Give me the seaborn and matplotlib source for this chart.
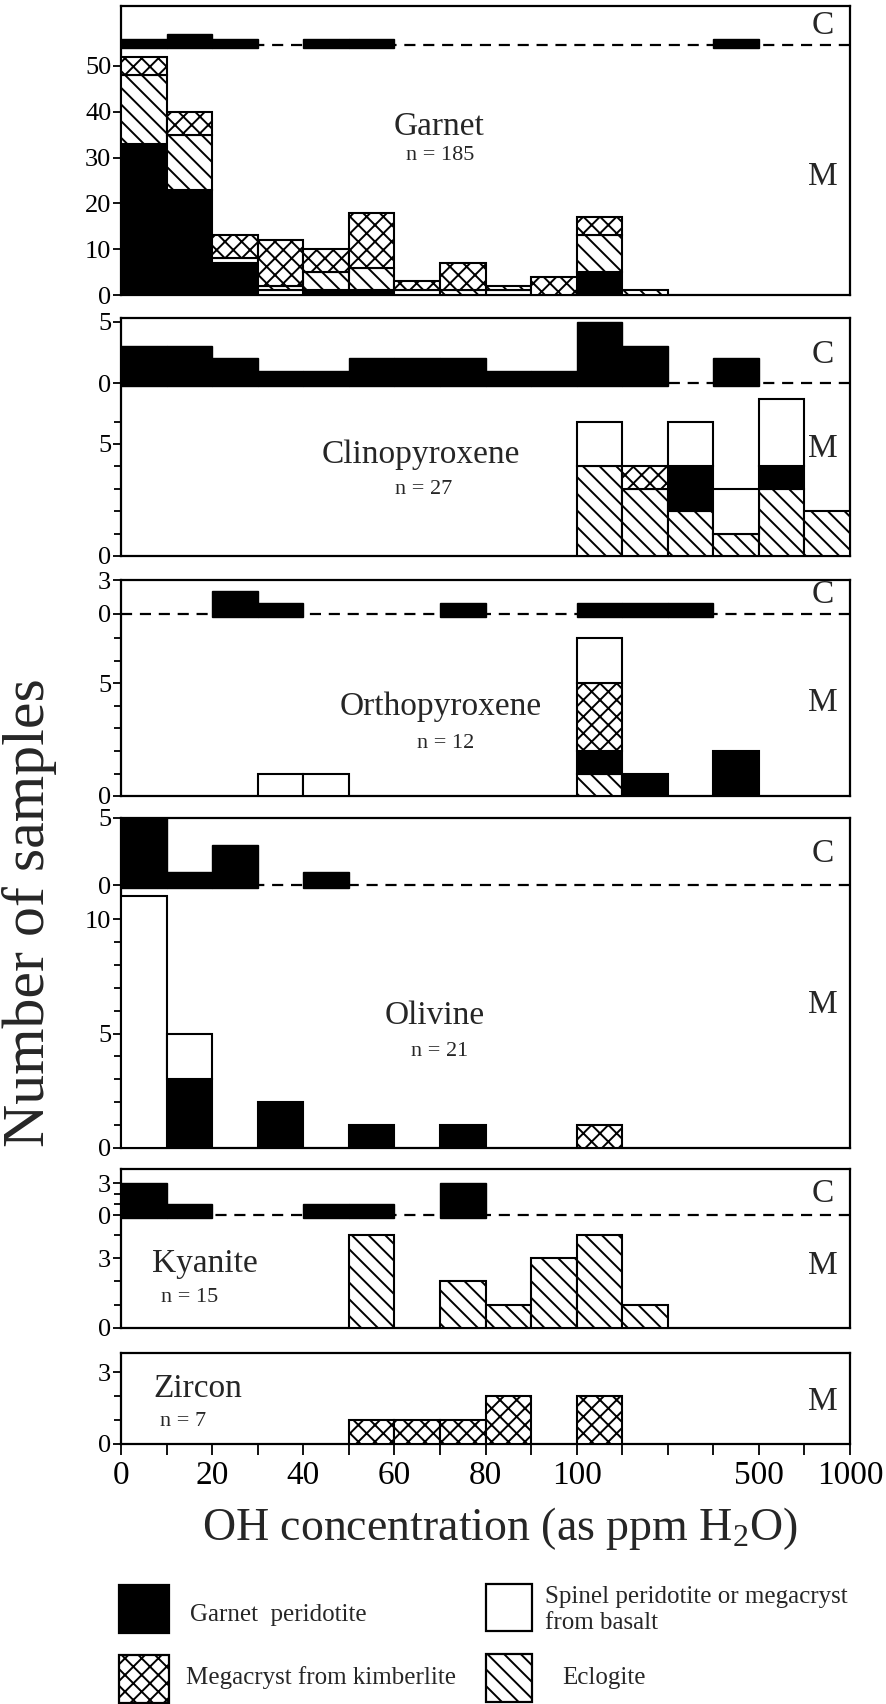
import numpy as np
import matplotlib
matplotlib.use("Agg")
import matplotlib.pyplot as plt
from matplotlib.patches import Rectangle
import seaborn as sns

# ---------------- data ----------------
bins = list(range(16))                      # bin index along the OH axis
x_tick_pos = [0, 2, 4, 6, 8, 10, 14, 16]
x_tick_labels = ["0", "20", "40", "60", "80", "100", "500", "1000"]

garnet_black    = [33, 23, 7, 0, 1, 1, 0, 0, 0, 0, 5, 0, 0, 0, 0, 0]
garnet_spinel   = [0, 0, 1, 1, 0, 0, 1, 0, 1, 0, 0, 0, 0, 0, 0, 0]
garnet_eclogite = [15, 12, 0, 1, 4, 5, 0, 1, 1, 0, 8, 1, 0, 0, 0, 0]
garnet_mega     = [4, 5, 5, 10, 5, 12, 2, 6, 0, 4, 4, 0, 0, 0, 0, 0]
garnet_c        = [1, 2, 1, 0, 1, 1, 0, 0, 0, 0, 0, 0, 0, 1, 0, 0]

cpx_black    = [0, 0, 0, 0, 0, 0, 0, 0, 0, 0, 0, 0, 2, 0, 1, 0]
cpx_spinel   = [0, 0, 0, 0, 0, 0, 0, 0, 0, 0, 2, 0, 2, 2, 3, 0]
cpx_eclogite = [0, 0, 0, 0, 0, 0, 0, 0, 0, 0, 4, 3, 2, 1, 3, 2]
cpx_mega     = [0, 0, 0, 0, 0, 0, 0, 0, 0, 0, 0, 1, 0, 0, 0, 0]
cpx_c        = [3, 3, 2, 1, 1, 2, 2, 2, 1, 1, 5, 3, 0, 2, 0, 0]

opx_black    = [0, 0, 0, 0, 0, 0, 0, 0, 0, 0, 1, 1, 0, 2, 0, 0]
opx_spinel   = [0, 0, 0, 1, 1, 0, 0, 0, 0, 0, 2, 0, 0, 0, 0, 0]
opx_eclogite = [0, 0, 0, 0, 0, 0, 0, 0, 0, 0, 1, 0, 0, 0, 0, 0]
opx_mega     = [0, 0, 0, 0, 0, 0, 0, 0, 0, 0, 3, 0, 0, 0, 0, 0]
opx_c        = [0, 0, 2, 1, 0, 0, 0, 1, 0, 0, 1, 1, 1, 0, 0, 0]

ol_black    = [0, 3, 0, 2, 0, 1, 0, 1, 0, 0, 0, 0, 0, 0, 0, 0]
ol_spinel   = [11, 2, 0, 0, 0, 0, 0, 0, 0, 0, 0, 0, 0, 0, 0, 0]
ol_eclogite = [0] * 16
ol_mega     = [0, 0, 0, 0, 0, 0, 0, 0, 0, 0, 1, 0, 0, 0, 0, 0]
ol_c        = [5, 1, 3, 0, 1, 0, 0, 0, 0, 0, 0, 0, 0, 0, 0, 0]

ky_black    = [0] * 16
ky_spinel   = [0] * 16
ky_eclogite = [0, 0, 0, 0, 0, 4, 0, 2, 1, 3, 4, 1, 0, 0, 0, 0]
ky_mega     = [0] * 16
ky_c        = [3, 1, 0, 0, 1, 1, 0, 3, 0, 0, 0, 0, 0, 0, 0, 0]

zr_black    = [0] * 16
zr_spinel   = [0] * 16
zr_eclogite = [0] * 16
zr_mega     = [0, 0, 0, 0, 0, 1, 1, 1, 2, 0, 2, 0, 0, 0, 0, 0]

legend_labels = {
    "black": "Garnet  peridotite",
    "spinel": "Spinel peridotite or megacryst\nfrom basalt",
    "mega": "Megacryst from kimberlite",
    "eclogite": "Eclogite",
}

# ---------------- style ----------------
sns.set_theme(style="ticks")
SERIF = ["Liberation Serif", "DejaVu Serif"]
plt.rcParams["font.family"] = SERIF
plt.rcParams["mathtext.fontset"] = "custom"
plt.rcParams["mathtext.rm"] = "Liberation Serif"
plt.rcParams["mathtext.it"] = "Liberation Serif:italic"
plt.rcParams["hatch.linewidth"] = 1.4
plt.rcParams["hatch.color"] = "black"

STYLE = {
    "black":    dict(facecolor="black", hatch=None),
    "spinel":   dict(facecolor="white", hatch=None),
    "mega":     dict(facecolor="white", hatch="xx"),
    "eclogite": dict(facecolor="white", hatch="\\\\"),
}

W, H = 886, 1704
fig = plt.figure(figsize=(W / 100, H / 100), dpi=100)
fig.patch.set_facecolor("white")

LEFT, RIGHT = 121, 850
C_OFF = 3.0  # px the C bars dip below the dashed line

panels = [
    dict(name="Garnet", n="n = 185", top=6, bottom=295, munit=4.58,
         cbase=44.6, cunit=5.5,
         series=dict(black=garnet_black, spinel=garnet_spinel,
                     eclogite=garnet_eclogite, mega=garnet_mega),
         order=["black", "spinel", "eclogite", "mega"], c=garnet_c,
         mmaj=[0, 10, 20, 30, 40, 50], mmin=[], cmaj=[], cmin=[],
         name_xy=(439, 127), n_xy=(440, 156), cy=26, my=177, ha="center"),
    dict(name="Clinopyroxene", n="n = 27", top=318, bottom=556, munit=22.4,
         cbase=383, cunit=12.3,
         series=dict(black=cpx_black, spinel=cpx_spinel,
                     eclogite=cpx_eclogite, mega=cpx_mega),
         order=["eclogite", "black", "mega", "spinel"], c=cpx_c,
         mmaj=[0, 5], mmin=[1, 2, 3, 4, 6], cmaj=[0, 5], cmin=[],
         name_xy=(421, 455), n_xy=(424, 490), cy=355, my=449, ha="center"),
    dict(name="Orthopyroxene", n="n = 12", top=580, bottom=796, munit=22.5,
         cbase=614, cunit=11.3,
         series=dict(black=opx_black, spinel=opx_spinel,
                     eclogite=opx_eclogite, mega=opx_mega),
         order=["eclogite", "black", "mega", "spinel"], c=opx_c,
         mmaj=[0, 5], mmin=[1, 2, 3, 4, 6, 7], cmaj=[0, 3], cmin=[],
         name_xy=(441, 707), n_xy=(446, 743), cy=595, my=703, ha="center"),
    dict(name="Olivine", n="n = 21", top=818, bottom=1148, munit=22.9,
         cbase=885, cunit=13.4,
         series=dict(black=ol_black, spinel=ol_spinel,
                     eclogite=ol_eclogite, mega=ol_mega),
         order=["black", "spinel", "eclogite", "mega"], c=ol_c,
         mmaj=[0, 5, 10], mmin=[1, 2, 3, 4, 6, 7, 8, 9], cmaj=[0, 5], cmin=[],
         name_xy=(435, 1016), n_xy=(440, 1052), cy=854, my=1005, ha="center"),
    dict(name="Kyanite", n="n = 15", top=1169, bottom=1328, munit=23.3,
         cbase=1215, cunit=10.6,
         series=dict(black=ky_black, spinel=ky_spinel,
                     eclogite=ky_eclogite, mega=ky_mega),
         order=["black", "spinel", "eclogite", "mega"], c=ky_c,
         mmaj=[0, 3], mmin=[1, 2, 4], cmaj=[0, 3], cmin=[1, 2],
         name_xy=(205, 1264), n_xy=(190, 1298), cy=1194, my=1266, ha="center"),
    dict(name="Zircon", n="n = 7", top=1353, bottom=1444, munit=23.9,
         cbase=None, cunit=None,
         series=dict(black=zr_black, spinel=zr_spinel,
                     eclogite=zr_eclogite, mega=zr_mega),
         order=["black", "spinel", "eclogite", "mega"], c=None,
         mmaj=[0, 3], mmin=[1, 2], cmaj=[], cmin=[],
         name_xy=(198, 1389), n_xy=(183, 1421), cy=None, my=1402, ha="center"),
]

x = np.array(bins, dtype=float)

for i, p in enumerate(panels):
    ax = fig.add_axes([LEFT / W, 1 - p["bottom"] / H,
                       (RIGHT - LEFT) / W, (p["bottom"] - p["top"]) / H])
    ymax = (p["bottom"] - p["top"]) / p["munit"]
    ax.set_xlim(0, 16)
    ax.set_ylim(0, ymax)
    ax.set_facecolor("white")

    # stacked M bars
    base = np.zeros(16)
    for cat in p["order"]:
        vals = np.array(p["series"][cat], dtype=float)
        m = vals > 0
        if m.any():
            ax.bar(x[m], vals[m], width=1.0, bottom=base[m], align="edge",
                   edgecolor="black", linewidth=1.5, zorder=3,
                   **STYLE[cat])
        base += vals

    yt, ytl = [], []
    for v in p["mmaj"]:
        yt.append(v); ytl.append(str(v))
    ymin_ticks = list(p["mmin"])

    # C section
    if p["c"] is not None:
        cb = (p["bottom"] - p["cbase"]) / p["munit"]
        cs = p["cunit"] / p["munit"]
        off = C_OFF / p["munit"]
        ax.axhline(cb, color="black", lw=1.6, ls=(0, (5, 3.5)), zorder=2)
        cv = np.array(p["c"], dtype=float)
        m = cv > 0
        ax.bar(x[m], cv[m] * cs + off, width=1.0, bottom=cb - off, align="edge",
               facecolor="black", edgecolor="black", linewidth=1.0, zorder=4)
        for v in p["cmaj"]:
            yt.append(cb + v * cs); ytl.append(str(v))
        for v in p["cmin"]:
            ymin_ticks.append(cb + v * cs)
        fig.text(823 / W, 1 - p["cy"] / H, "C", fontsize=24, ha="center",
                 va="center")

    ax.set_yticks(yt)
    ax.set_yticklabels(ytl, fontsize=19)
    ax.set_yticks(ymin_ticks, minor=True)
    ax.tick_params(axis="y", which="major", direction="out", length=6,
                   width=1.3, pad=1, colors="black")
    ax.tick_params(axis="y", which="minor", direction="out", length=5,
                   width=1.3, colors="black")

    if i == len(panels) - 1:
        ticks = list(range(17))
        labels = ["" for _ in ticks]
        for pos, lab in zip(x_tick_pos, x_tick_labels):
            labels[pos] = lab
        ax.set_xticks(ticks)
        ax.set_xticklabels(labels, fontsize=24)
        ax.tick_params(axis="x", direction="out", length=8, width=1.3, pad=4,
                       colors="black")
    else:
        ax.set_xticks([])

    for s in ax.spines.values():
        s.set_visible(True)
        s.set_color("black")
        s.set_linewidth(1.6)
    ax.grid(False)

    fig.text(p["name_xy"][0] / W, 1 - p["name_xy"][1] / H, p["name"],
             fontsize=24, ha=p["ha"], va="center")
    fig.text(p["n_xy"][0] / W, 1 - p["n_xy"][1] / H, p["n"],
             fontsize=16, ha="center", va="center")
    fig.text(823 / W, 1 - p["my"] / H, "M", fontsize=24, ha="center",
             va="center")

# axis titles
fig.text(30 / W, 1 - 913 / H, "Number of samples", rotation=90, fontsize=43,
         ha="center", va="center")
fig.text(500 / W, 1 - 1528 / H, r"OH concentration (as ppm H$_{\mathrm{2}}$O)",
         fontsize=33, ha="center", va="center")

# legend
legend_items = [
    ("black", (119, 1585, 50, 48), (190, 1615)),
    ("spinel", (486, 1584, 46, 47), (545, 1610)),
    ("mega", (119, 1655, 50, 48), (186, 1678)),
    ("eclogite", (486, 1654, 46, 48), (562, 1678)),
]
for cat, (bx, by, bw, bh), (tx, ty) in legend_items:
    r = Rectangle((bx / W, 1 - (by + bh) / H), bw / W, bh / H,
                  transform=fig.transFigure, edgecolor="black", linewidth=1.6,
                  **STYLE[cat])
    fig.add_artist(r)
    fig.text(tx / W, 1 - ty / H, legend_labels[cat], fontsize=18, ha="left",
             va="center", linespacing=1.2)

fig.savefig("out.png", dpi=100, facecolor="white")
